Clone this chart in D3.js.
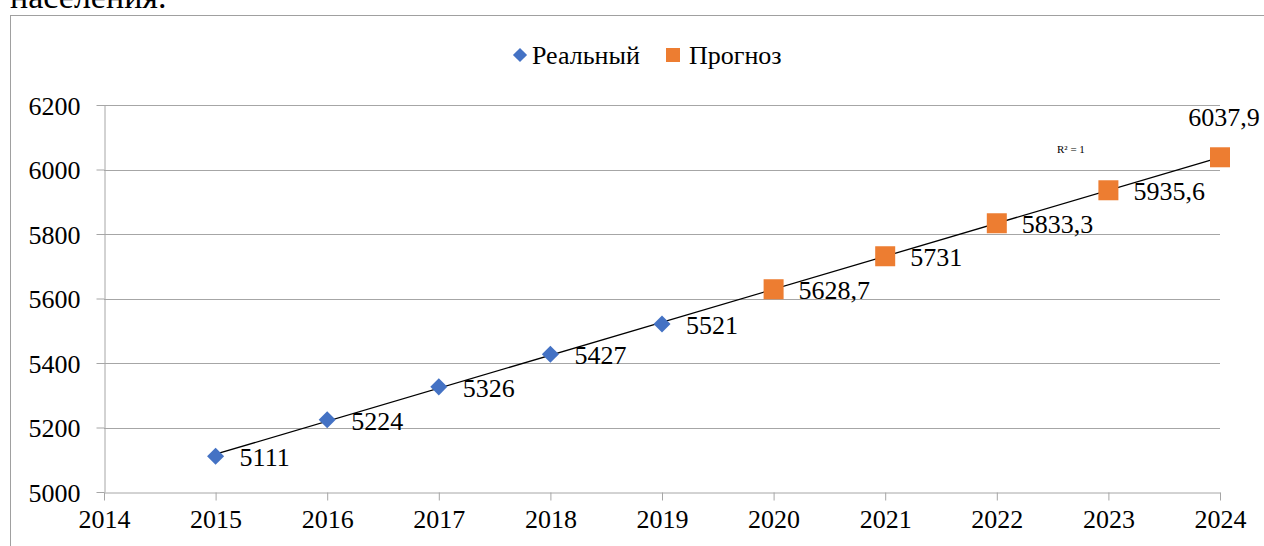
<!DOCTYPE html>
<html>
<head>
<meta charset="utf-8">
<script src="https://cdn.jsdelivr.net/npm/d3@7"></script>
<style>
  html, body { margin: 0; padding: 0; background: #fff; overflow: hidden; }
  svg { display: block; }
</style>
</head>
<body>
<svg id="chart" width="1264" height="546" font-family="'Liberation Serif', 'Times New Roman', serif"></svg>
<script>
const width = 1264;
const height = 546;

// данные
const realYears = [2015, 2016, 2017, 2018, 2019];
const realValues = [5111, 5224, 5326, 5427, 5521];
const forecastYears = [2020, 2021, 2022, 2023, 2024];
const forecastValues = [5628.7, 5731, 5833.3, 5935.6, 6037.9];
const forecastLabels = ["5628,7", "5731", "5833,3", "5935,6", "6037,9"];
const xTicks = [2014, 2015, 2016, 2017, 2018, 2019, 2020, 2021, 2022, 2023, 2024];
const yTicks = [5000, 5200, 5400, 5600, 5800, 6000, 6200];
const legendNames = ["Реальный", "Прогноз"];

const blue = "#4472C4";
const orange = "#ED7D31";
const gridColor = "#a6a6a6";
const serif = "'Liberation Serif', 'Times New Roman', serif";
const fs = 26;

const svg = d3.select("#chart");

// обрезанный текст сверху
svg.append("text")
    .attr("x", 10)
    .attr("y", 8)
    .attr("font-family", serif)
    .attr("font-size", 34)
    .attr("fill", "#000")
    .text("населения.");

// рамка диаграммы
svg.append("rect")
    .attr("x", 10.5)
    .attr("y", 15.5)
    .attr("width", 1300)
    .attr("height", 600)
    .attr("fill", "none")
    .attr("stroke", "#a0a0a0");

const x = d3.scaleLinear().domain([2014, 2024]).range([104, 1220]);
const y = d3.scaleLinear().domain([5000, 6200]).range([492, 105]);

// сетка
svg.append("g")
    .selectAll("line")
    .data(yTicks.filter(d => d > 5000))
    .enter()
    .append("line")
    .attr("x1", x(2014))
    .attr("x2", x(2024))
    .attr("y1", d => Math.round(y(d)) + 0.5)
    .attr("y2", d => Math.round(y(d)) + 0.5)
    .attr("stroke", gridColor);

// оси
const xAxis = svg.append("g")
    .attr("transform", `translate(0,${Math.round(y(5000)) + 0.5})`)
    .call(d3.axisBottom(x).tickValues(xTicks).tickFormat(d3.format("d")).tickSizeInner(8).tickSizeOuter(0).tickPadding(9));

const yAxis = svg.append("g")
    .attr("transform", `translate(${Math.round(x(2014)) + 0.5},0)`)
    .call(d3.axisLeft(y).tickValues(yTicks).tickFormat(d3.format("d")).tickSizeInner(8).tickSizeOuter(0).tickPadding(16));

[xAxis, yAxis].forEach(a => {
    a.attr("font-family", serif).attr("font-size", fs);
    a.select(".domain").attr("stroke", gridColor);
    a.selectAll(".tick line").attr("stroke", gridColor);
    a.selectAll(".tick text").attr("fill", "#000");
});
yAxis.selectAll(".tick text").attr("dy", "0.35em");

// линия тренда (МНК по всем точкам)
const allYears = realYears.concat(forecastYears);
const allValues = realValues.concat(forecastValues);
const mx = d3.mean(allYears);
const my = d3.mean(allValues);
const slope = d3.sum(allYears, (d, i) => (d - mx) * (allValues[i] - my)) /
    d3.sum(allYears, d => (d - mx) * (d - mx));
const intercept = my - slope * mx;

svg.append("line")
    .attr("x1", x(2015))
    .attr("y1", y(intercept + slope * 2015))
    .attr("x2", x(2024))
    .attr("y2", y(intercept + slope * 2024))
    .attr("stroke", "#000")
    .attr("stroke-width", 1.3);

svg.append("text")
    .attr("x", 1057)
    .attr("y", 153)
    .attr("font-family", serif)
    .attr("font-size", 11)
    .text("R² = 1");

// реальные значения — ромбы
const diamond = d3.symbol().type(d3.symbolDiamond2).size(185);
svg.append("g")
    .selectAll("path")
    .data(realYears)
    .enter()
    .append("path")
    .attr("d", diamond)
    .attr("transform", (d, i) => `translate(${x(d)},${y(realValues[i])})`)
    .attr("fill", blue);

svg.append("g")
    .attr("font-family", serif)
    .attr("font-size", fs)
    .selectAll("text")
    .data(realYears)
    .enter()
    .append("text")
    .attr("x", d => x(d) + 24)
    .attr("y", (d, i) => y(realValues[i]))
    .attr("dy", "0.38em")
    .text((d, i) => realValues[i]);

// прогноз — квадраты
const sq = 20;
svg.append("g")
    .selectAll("rect")
    .data(forecastYears)
    .enter()
    .append("rect")
    .attr("x", d => x(d) - sq / 2)
    .attr("y", (d, i) => y(forecastValues[i]) - sq / 2)
    .attr("width", sq)
    .attr("height", sq)
    .attr("fill", orange);

svg.append("g")
    .attr("font-family", serif)
    .attr("font-size", fs)
    .selectAll("text")
    .data(forecastYears)
    .enter()
    .append("text")
    .attr("x", (d, i) => i === 4 ? x(d) + 4 : x(d) + 25)
    .attr("y", (d, i) => i === 4 ? y(forecastValues[i]) - 41 : y(forecastValues[i]))
    .attr("dy", "0.38em")
    .attr("text-anchor", (d, i) => i === 4 ? "middle" : "start")
    .text((d, i) => forecastLabels[i]);

// легенда
const legend = svg.append("g").attr("font-family", serif).attr("font-size", fs);
legend.append("path")
    .attr("d", d3.symbol().type(d3.symbolDiamond2).size(128))
    .attr("transform", "translate(520,55)")
    .attr("fill", blue);
legend.append("text")
    .attr("x", 532)
    .attr("y", 55)
    .attr("dy", "0.35em")
    .text(legendNames[0]);
legend.append("rect")
    .attr("x", 666)
    .attr("y", 48)
    .attr("width", 14)
    .attr("height", 14)
    .attr("fill", orange);
legend.append("text")
    .attr("x", 689)
    .attr("y", 55)
    .attr("dy", "0.35em")
    .text(legendNames[1]);
</script>
</body>
</html>
